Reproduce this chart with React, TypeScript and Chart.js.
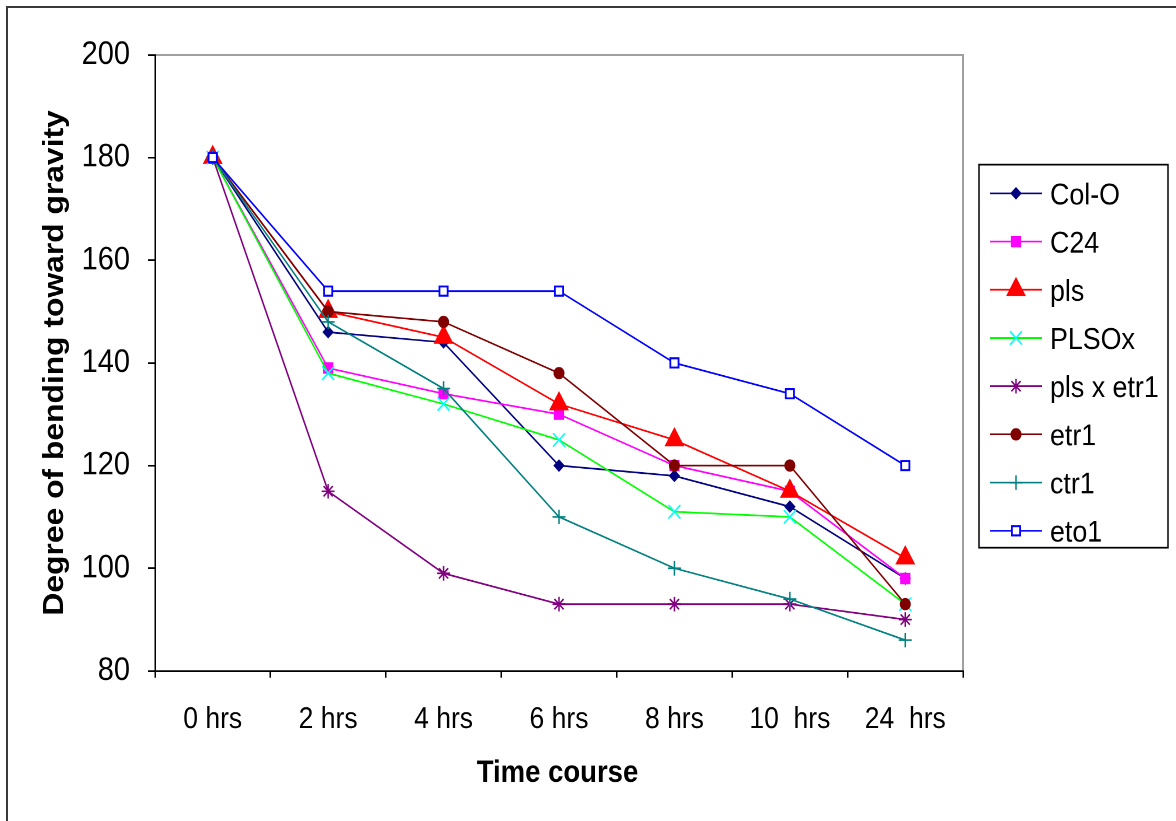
import React, { useEffect, useRef } from 'react';
import { Chart, registerables } from 'chart.js';

Chart.register(...registerables);

// ---------- data ----------
const categories = ['0 hrs', '2 hrs', '4 hrs', '6 hrs', '8 hrs', '10  hrs', '24  hrs'];
const seriesNames = ['Col-O', 'C24', 'pls', 'PLSOx', 'pls x etr1', 'etr1', 'ctr1', 'eto1'];
const colO = [180, 146, 144, 120, 118, 112, 98];
const c24 = [180, 139, 134, 130, 120, 115, 98];
const pls = [180, 150, 145, 132, 125, 115, 102];
const plsox = [180, 138, 132, 125, 111, 110, 93];
const plsXEtr1 = [180, 115, 99, 93, 93, 93, 90];
const etr1 = [180, 150, 148, 138, 120, 120, 93];
const ctr1 = [180, 148, 135, 110, 100, 94, 86];
const eto1 = [180, 154, 154, 154, 140, 134, 120];
const seriesValues = [colO, c24, pls, plsox, plsXEtr1, etr1, ctr1, eto1];
const yTicks = [80, 100, 120, 140, 160, 180, 200];
const X_TITLE = 'Time course';
const Y_TITLE = 'Degree of bending toward gravity';

// ---------- styles ----------
type Sty = { line: string; marker: string; r: number; fill: string; stroke: string; bw: number };
const styles: Sty[] = [
  { line: '#000080', marker: 'rectRot', r: 5, fill: '#000080', stroke: '#000080', bw: 1 },
  { line: '#FF00FF', marker: 'rect', r: 6.5, fill: '#FF00FF', stroke: '#FF00FF', bw: 1 },
  { line: '#FF0000', marker: 'triangle', r: 10.5, fill: '#FF0000', stroke: '#FF0000', bw: 1 },
  { line: '#00FF00', marker: 'crossRot', r: 8.5, fill: '#00FFFF', stroke: '#00FFFF', bw: 1.5 },
  { line: '#800080', marker: 'star', r: 6.5, fill: '#800080', stroke: '#800080', bw: 1.5 },
  { line: '#800000', marker: 'circle', r: 5, fill: '#800000', stroke: '#800000', bw: 1 },
  { line: '#008080', marker: 'cross', r: 6.5, fill: '#008080', stroke: '#008080', bw: 1.5 },
  { line: '#0000FF', marker: 'rect', r: 5.8, fill: '#FFFFFF', stroke: '#0000FF', bw: 1.8 },
];

const W = 1176;
const FULL_H = 821;
const STRETCH = 1.12;
const H = Math.round(FULL_H / STRETCH);
const FONT = '"Liberation Sans", Arial, Helvetica, sans-serif';

function drawMarker(ctx: CanvasRenderingContext2D, s: Sty, x: number, y: number) {
  const r = s.r;
  ctx.save();
  ctx.beginPath();
  ctx.lineWidth = s.bw;
  ctx.strokeStyle = s.stroke;
  ctx.fillStyle = s.fill;
  let fill = true;
  switch (s.marker) {
    case 'circle':
      ctx.arc(x, y, r, 0, Math.PI * 2);
      ctx.closePath();
      break;
    case 'rect': {
      const h = Math.SQRT1_2 * r;
      ctx.rect(x - h, y - h, 2 * h, 2 * h);
      break;
    }
    case 'rectRot':
      ctx.moveTo(x, y - r);
      ctx.lineTo(x + r, y);
      ctx.lineTo(x, y + r);
      ctx.lineTo(x - r, y);
      ctx.closePath();
      break;
    case 'triangle': {
      let a = 0;
      ctx.moveTo(x + Math.sin(a) * r, y - Math.cos(a) * r);
      a += (2 * Math.PI) / 3;
      ctx.lineTo(x + Math.sin(a) * r, y - Math.cos(a) * r);
      a += (2 * Math.PI) / 3;
      ctx.lineTo(x + Math.sin(a) * r, y - Math.cos(a) * r);
      ctx.closePath();
      break;
    }
    case 'cross':
      fill = false;
      ctx.moveTo(x, y - r);
      ctx.lineTo(x, y + r);
      ctx.moveTo(x - r, y);
      ctx.lineTo(x + r, y);
      break;
    case 'crossRot': {
      fill = false;
      const d = Math.SQRT1_2 * r;
      ctx.moveTo(x - d, y - d);
      ctx.lineTo(x + d, y + d);
      ctx.moveTo(x + d, y - d);
      ctx.lineTo(x - d, y + d);
      break;
    }
    case 'star': {
      fill = false;
      const d = Math.SQRT1_2 * r;
      ctx.moveTo(x, y - r);
      ctx.lineTo(x, y + r);
      ctx.moveTo(x - r, y);
      ctx.lineTo(x + r, y);
      ctx.moveTo(x - d, y - d);
      ctx.lineTo(x + d, y + d);
      ctx.moveTo(x + d, y - d);
      ctx.lineTo(x - d, y + d);
      break;
    }
  }
  if (fill) ctx.fill();
  ctx.stroke();
  ctx.restore();
}

const decorPlugin = {
  id: 'decor',
  beforeDatasetsDraw(chart: any) {
    const { ctx, chartArea: a } = chart;
    ctx.save();
    ctx.strokeStyle = '#a0a0a0';
    ctx.lineWidth = 2;
    ctx.beginPath();
    ctx.moveTo(a.left + 1, a.top);
    ctx.lineTo(a.right, a.top);
    ctx.lineTo(a.right, a.bottom - 1);
    ctx.stroke();
    ctx.restore();
  },
  afterDraw(chart: any) {
    const { ctx, chartArea: a } = chart;
    const xs = chart.scales.x;
    ctx.save();
    ctx.fillStyle = '#000';
    ctx.textBaseline = 'alphabetic';
    // x tick labels
    ctx.font = `26.5px ${FONT}`;
    ctx.textAlign = 'center';
    categories.forEach((c, i) => ctx.fillText(c, xs.getPixelForValue(i), 650));
    // x title
    ctx.font = `bold 27.5px ${FONT}`;
    ctx.fillText(X_TITLE, (a.left + a.right) / 2 - 1.5, 698);
    // y title
    ctx.save();
    ctx.translate(63, (a.top + a.bottom) / 2);
    ctx.rotate(-Math.PI / 2);
    ctx.font = `bold 28.4px ${FONT}`;
    ctx.textAlign = 'center';
    ctx.fillText(Y_TITLE, 0, 0);
    ctx.restore();

    // legend
    const lx = 979, ly = 147, lw = 189, lh = 342;
    ctx.fillStyle = '#fff';
    ctx.fillRect(lx, ly, lw, lh);
    ctx.strokeStyle = '#000';
    ctx.lineWidth = 1.5;
    ctx.strokeRect(lx, ly, lw, lh);
    const y0 = 172.6, step = 43.04;
    seriesNames.forEach((name, i) => {
      const s = styles[i];
      const y = y0 + i * step;
      ctx.beginPath();
      ctx.strokeStyle = s.line;
      ctx.lineWidth = 1.5;
      ctx.moveTo(990, y);
      ctx.lineTo(1042, y);
      ctx.stroke();
      drawMarker(ctx, s, 1016, y);
      ctx.fillStyle = '#000';
      ctx.font = `26.8px ${FONT}`;
      ctx.textAlign = 'left';
      ctx.fillText(name, 1050, y + 9.7);
    });
    ctx.restore();
  },
};

export default function App() {
  const ref = useRef<HTMLCanvasElement | null>(null);

  useEffect(() => {
    if (!ref.current) return;
    const n = seriesNames.length;
    const chart = new Chart(ref.current, {
      type: 'line',
      data: {
        labels: categories,
        datasets: seriesNames.map((name, i) => {
          const s = styles[i];
          return {
            label: name,
            data: seriesValues[i],
            borderColor: s.line,
            backgroundColor: s.fill,
            borderWidth: 1.5,
            fill: false,
            tension: 0,
            pointStyle: s.marker as any,
            pointRadius: s.r,
            pointHoverRadius: s.r,
            pointBackgroundColor: s.fill,
            pointBorderColor: s.stroke,
            pointBorderWidth: s.bw,
            order: n - i,
            clip: false as any,
          };
        }),
      },
      options: {
        responsive: false,
        devicePixelRatio: 2,
        animation: false,
        events: [],
        layout: { padding: { left: 0, top: 49, right: W - 963, bottom: 0 } },
        plugins: {
          legend: { display: false },
          tooltip: { enabled: false },
          title: { display: false },
        },
        scales: {
          x: {
            type: 'category',
            offset: true,
            grid: {
              offset: true,
              drawOnChartArea: false,
              drawTicks: true,
              tickLength: 6,
              color: '#000',
              lineWidth: 1.5,
            },
            border: { display: true, color: '#000', width: 1.5 },
            ticks: { display: false },
            afterFit: (scale: any) => {
              scale.height = H - 599;
            },
          },
          y: {
            type: 'linear',
            min: yTicks[0],
            max: yTicks[yTicks.length - 1],
            afterBuildTicks: (scale: any) => {
              scale.ticks = yTicks.map((v) => ({ value: v }));
            },
            grid: {
              drawOnChartArea: false,
              drawTicks: true,
              tickLength: 7,
              color: '#000',
              lineWidth: 1.5,
            },
            border: { display: true, color: '#000', width: 1.5 },
            ticks: {
              color: '#000',
              padding: 18,
              font: { family: FONT, size: 29 },
            },
            afterFit: (scale: any) => {
              scale.width = 155;
            },
          },
        },
      },
      plugins: [decorPlugin],
    });
    return () => chart.destroy();
  }, []);

  return (
    <div
      style={{
        position: 'fixed',
        left: 0,
        top: 0,
        width: W,
        height: FULL_H,
        background: '#fff',
        overflow: 'hidden',
      }}
    >
      <canvas
        ref={ref}
        width={W}
        height={H}
        style={{ position: 'absolute', left: 0, top: 0, width: W + 'px', height: FULL_H + 'px', display: 'block' }}
      />
      <div style={{ position: 'absolute', left: 6, top: 6, right: 0, height: 2, background: '#3a3a3a' }} />
      <div style={{ position: 'absolute', left: 6, top: 6, bottom: 0, width: 2, background: '#3a3a3a' }} />
    </div>
  );
}
